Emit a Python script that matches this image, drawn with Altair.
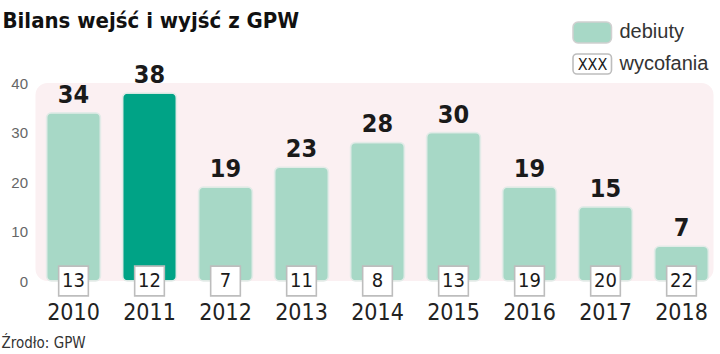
import altair as alt
import pandas as pd

years = ["2010", "2011", "2012", "2013", "2014", "2015", "2016", "2017", "2018"]
debiuty = [34, 38, 19, 23, 28, 30, 19, 15, 7]
wycofania = [13, 12, 7, 11, 8, 13, 19, 20, 22]
highlight = ["no", "yes", "no", "no", "no", "no", "no", "no", "no"]

df = pd.DataFrame({"rok": years, "debiuty": debiuty, "wycofania": wycofania, "hl": highlight})

LIGHT = "#a7d8c6"
DARK = "#00a386"
COND = "DejaVu Sans Condensed"

x_enc = alt.X("rok:N", sort=years,
              scale=alt.Scale(paddingInner=0.29, paddingOuter=0.145),
              axis=alt.Axis(title=None, domain=False, ticks=False, labelAngle=0,
                            labelFontSize=23, labelColor="#222222", labelPadding=20,
                            labelFont=COND))
y_scale = alt.Scale(domain=[0, 40], nice=False)

base = alt.Chart(df)
one = alt.Chart(pd.DataFrame({"a": [0]}))

bg = one.mark_rect(cornerRadius=12, fill="#fbf0f2").encode(
    x=alt.value(0), x2=alt.value(678), y=alt.value(0), y2=alt.value(198))

bars = base.mark_bar(cornerRadius=5, stroke="#e3ebe8", strokeWidth=1.5).encode(
    x=x_enc,
    y=alt.Y("debiuty:Q", scale=y_scale,
            axis=alt.Axis(title=None, values=[0, 10, 20, 30, 40], domain=False, ticks=False,
                          grid=False, labelFontSize=15, labelColor="#666666", labelPadding=8,
                          labelFont="Liberation Sans")),
    color=alt.Color("hl:N", scale=alt.Scale(domain=["no", "yes"], range=[LIGHT, DARK]), legend=None),
)

vals = base.mark_text(baseline="bottom", dy=-5, font=COND, fontWeight="bold", fontSize=25,
                      color="#1a1a1a").encode(
    x=alt.X("rok:N", sort=years), y=alt.Y("debiuty:Q", scale=y_scale), text="debiuty:Q")

boxes = base.mark_point(shape="square", size=880, filled=True, fill="white", stroke="#bdbdbd",
                        strokeWidth=1.6, opacity=1).transform_calculate(zero="0").encode(
    x=alt.X("rok:N", sort=years), y=alt.Y("zero:Q", scale=y_scale))

boxtxt = base.mark_text(baseline="middle", font=COND, fontSize=20,
                        color="#1a1a1a").transform_calculate(zero="0").encode(
    x=alt.X("rok:N", sort=years), y=alt.Y("zero:Q", scale=y_scale), text="wycofania:Q")

leg_rect = one.mark_rect(cornerRadius=5, fill=LIGHT, stroke="#d0d0d0", strokeWidth=1.5).encode(
    x=alt.value(537.5), x2=alt.value(576), y=alt.value(-61), y2=alt.value(-40))
leg_box = one.mark_rect(cornerRadius=4, fill="white", stroke="#bdbdbd", strokeWidth=1.6).encode(
    x=alt.value(537.5), x2=alt.value(576), y=alt.value(-29), y2=alt.value(-9))
leg_xxx = one.mark_text(font=COND, fontSize=16, color="#1a1a1a",
                        baseline="middle", align="center").encode(
    x=alt.value(557), y=alt.value(-18), text=alt.value("XXX"))
leg_t1 = one.mark_text(font="Liberation Sans", fontSize=20, color="#333333",
                       baseline="middle", align="left").encode(
    x=alt.value(584), y=alt.value(-51), text=alt.value("debiuty"))
leg_t2 = one.mark_text(font="Liberation Sans", fontSize=20, color="#333333",
                       baseline="middle", align="left").encode(
    x=alt.value(584), y=alt.value(-19), text=alt.value("wycofania"))

title = one.mark_text(font=COND, fontWeight="bold", fontSize=22, color="#111111",
                      baseline="middle", align="left").encode(
    x=alt.value(-33), y=alt.value(-62), text=alt.value("Bilans wejść i wyjść z GPW"))
source = one.mark_text(font=COND, fontSize=15, color="#333333",
                       baseline="middle", align="left").encode(
    x=alt.value(-34), y=alt.value(260), text=alt.value("Źrodło: GPW"))

chart = alt.layer(bg, bars, vals, boxes, boxtxt, leg_rect, leg_box, leg_xxx, leg_t1, leg_t2,
                  title, source).properties(
    width=684, height=198,
    autosize=alt.AutoSizeParams(type="none"),
    padding={"left": 35.5, "top": 83, "right": 0.5, "bottom": 73},
    background="white",
).configure_view(stroke=None)

chart.save("out.html", embed_options={"renderer": "svg", "actions": False})
